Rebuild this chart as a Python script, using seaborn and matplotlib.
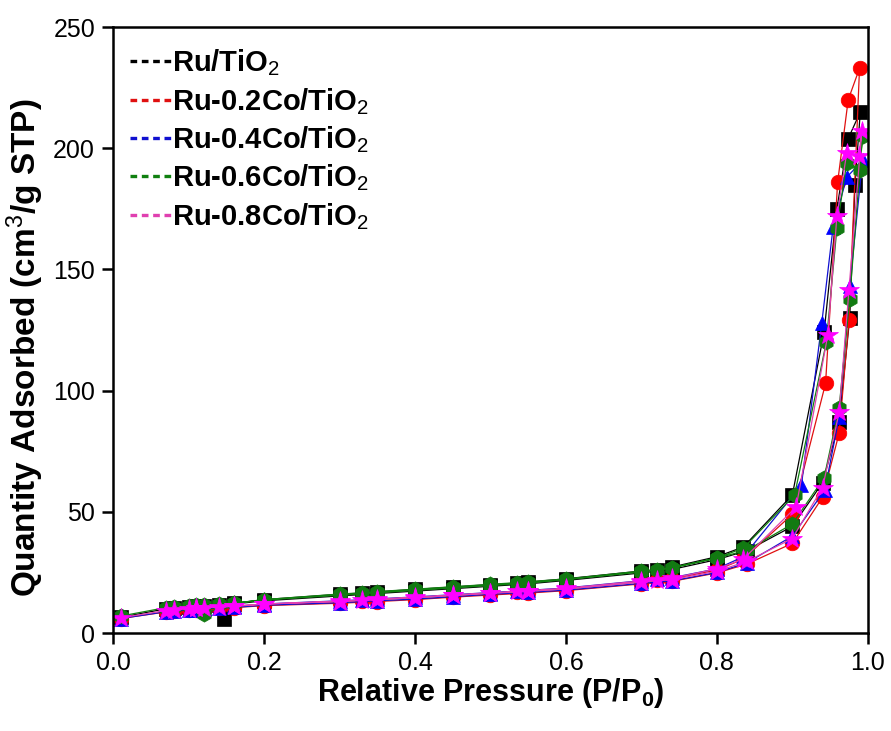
import numpy as np
import pandas as pd
import matplotlib
matplotlib.use("Agg")
import matplotlib.pyplot as plt
from matplotlib.lines import Line2D
import seaborn as sns

# ---- isotherm data: adsorption branch then desorption branch ----
ads_x = [0.01, 0.07, 0.08, 0.10, 0.11, 0.12, 0.14, 0.16, 0.20, 0.30, 0.35,
         0.40, 0.45, 0.50, 0.55, 0.60, 0.70, 0.74, 0.80, 0.84, 0.90]
des_x = [0.835, 0.80, 0.74, 0.72, 0.70, 0.60, 0.55, 0.535, 0.50, 0.45, 0.40,
         0.35, 0.33, 0.30, 0.20, 0.16]

# Ru/TiO2
ru_ads_hx = [0.94, 0.962, 0.976, 0.983, 0.99]
ru_ads_hy = [62, 87, 130, 185, 215]
ru_des_hx = [0.974, 0.959, 0.942, 0.90]
ru_des_hy = [204, 175, 124, 57]
ru_ads_y = [6.5, 10.0, 10.3, 10.8, 11.0, 11.3, 11.6, 12.0, 13.3, 15.3, 16.3,
            17.3, 18.3, 19.3, 20.3, 21.7, 24.8, 26.2, 30.3, 34.0, 44]
ru_des_y = [35.5, 31.5, 27.2, 26.0, 25.6, 22.4, 21.0, 20.6, 20.0, 19.0, 18.0,
            17.0, 16.5, 16.0, 13.8, 12.3]
ru_tail_x = [0.147]
ru_tail_y = [5.8]

# Ru-0.2Co/TiO2
c2_ads_hx = [0.94, 0.962, 0.975, 0.989]
c2_ads_hy = [56, 82.5, 129, 233]
c2_des_hx = [0.974, 0.960, 0.944, 0.90]
c2_des_hy = [220, 186, 103, 49]
c2_ads_y = [6.0, 8.7, 9.0, 9.4, 9.6, 9.8, 10.2, 10.5, 11.3, 12.3, 13.0,
            13.8, 14.8, 15.7, 16.5, 17.5, 20.3, 21.3, 24.8, 28.5, 37]
c2_des_y = [30.5, 26.0, 22.3, 21.8, 21.2, 18.2, 17.3, 17.0, 16.4, 15.5, 14.6,
            13.8, 13.4, 13.0, 11.8, 10.8]
c2_tail_x = [0.12]
c2_tail_y = [10.0]

# Ru-0.4Co/TiO2
c4_ads_hx = [0.943, 0.962, 0.976, 0.993]
c4_ads_hy = [59, 89, 143, 195]
c4_des_hx = [0.972, 0.954, 0.939, 0.912]
c4_des_hy = [188, 167.5, 128, 61]
c4_ads_y = [6.0, 8.8, 9.1, 9.5, 9.7, 10.0, 10.3, 10.6, 11.5, 12.5, 13.3,
            14.0, 15.0, 16.0, 16.8, 17.7, 20.5, 21.5, 25.0, 29.0, 40]
c4_des_y = [31.5, 26.5, 22.8, 22.2, 21.6, 18.6, 17.6, 17.3, 16.7, 15.8, 14.9,
            14.1, 13.7, 13.3, 12.0, 11.0]
c4_tail_x = [0.12]
c4_tail_y = [10.2]

# Ru-0.6Co/TiO2
c6_ads_hx = [0.942, 0.962, 0.976, 0.993]
c6_ads_hy = [64, 93, 138, 205]
c6_des_hx = [0.989, 0.972, 0.959, 0.945, 0.903]
c6_des_hy = [191, 194, 167, 120, 57]
c6_ads_y = [7.0, 10.5, 10.8, 11.2, 11.4, 11.6, 12.0, 12.4, 13.6, 15.6, 16.6,
            17.6, 18.6, 19.6, 20.6, 22.0, 25.2, 26.8, 30.9, 34.2, 45]
c6_des_y = [35.0, 31.0, 27.0, 26.2, 25.6, 22.3, 21.2, 20.8, 20.1, 19.1, 18.1,
            17.1, 16.6, 16.1, 13.8, 12.2]
c6_tail_x = [0.12]
c6_tail_y = [8.0]

# Ru-0.8Co/TiO2
c8_ads_hx = [0.94, 0.962, 0.975, 0.992]
c8_ads_hy = [60, 91, 141.5, 207]
c8_des_hx = [0.988, 0.972, 0.959, 0.947, 0.905]
c8_des_hy = [197, 198, 172, 123, 52]
c8_ads_y = [6.3, 9.3, 9.6, 10.0, 10.2, 10.4, 10.8, 11.1, 12.0, 13.0, 13.8,
            14.6, 15.5, 16.4, 17.2, 18.2, 21.0, 22.0, 25.5, 29.6, 39]
c8_des_y = [30.5, 26.5, 22.6, 22.0, 21.5, 18.5, 17.5, 17.2, 16.6, 15.7, 14.8,
            14.0, 13.6, 13.2, 11.9, 11.0]
c8_tail_x = [0.11]
c8_tail_y = [10.3]

labels = ["Ru/TiO$_2$", "Ru-0.2Co/TiO$_2$", "Ru-0.4Co/TiO$_2$",
          "Ru-0.6Co/TiO$_2$", "Ru-0.8Co/TiO$_2$"]
line_colors = ["#000000", "#e01010", "#1010d0", "#108010", "#e040b0"]
mark_colors = ["#000000", "#ff0000", "#0000ff", "#127a12", "#ff00ff"]
markers = ["s", "o", "^", "h", "*"]
msizes = [9.5, 10.5, 10.5, 11, 15]

series = [
    (ru_ads_y, ru_ads_hx, ru_ads_hy, ru_des_hx, ru_des_hy, ru_des_y, ru_tail_x, ru_tail_y),
    (c2_ads_y, c2_ads_hx, c2_ads_hy, c2_des_hx, c2_des_hy, c2_des_y, c2_tail_x, c2_tail_y),
    (c4_ads_y, c4_ads_hx, c4_ads_hy, c4_des_hx, c4_des_hy, c4_des_y, c4_tail_x, c4_tail_y),
    (c6_ads_y, c6_ads_hx, c6_ads_hy, c6_des_hx, c6_des_hy, c6_des_y, c6_tail_x, c6_tail_y),
    (c8_ads_y, c8_ads_hx, c8_ads_hy, c8_des_hx, c8_des_hy, c8_des_y, c8_tail_x, c8_tail_y),
]

sns.set_style("ticks")
plt.rcParams["font.family"] = ["Liberation Sans", "DejaVu Sans"]
plt.rcParams["mathtext.fontset"] = "custom"
plt.rcParams["mathtext.rm"] = "Liberation Sans"
plt.rcParams["mathtext.bf"] = "Liberation Sans:bold"
plt.rcParams["mathtext.default"] = "rm"
plt.rcParams["text.color"] = "black"
plt.rcParams["axes.labelcolor"] = "black"

fig = plt.figure(figsize=(8.91, 7.31), dpi=100)
ax = fig.add_axes([0.127, 0.134, 0.847, 0.829])

for i, (ay, ahx, ahy, dhx, dhy, dy, tx, ty) in enumerate(series):
    xs = ads_x + ahx + dhx + des_x + tx
    ys = ay + ahy + dhy + dy + ty
    df = pd.DataFrame({"p": xs, "q": ys})
    sns.lineplot(data=df, x="p", y="q", sort=False, estimator=None, ax=ax,
                 color=line_colors[i], linewidth=0.9, marker=markers[i],
                 markersize=msizes[i], markerfacecolor=mark_colors[i],
                 markeredgecolor=mark_colors[i], markeredgewidth=0.5,
                 legend=False)

ax.set_xlim(0, 1.0)
ax.set_ylim(0, 250)
ax.set_xticks(np.arange(0, 1.01, 0.2))
ax.set_xticklabels([f"{v:.1f}" for v in np.arange(0, 1.01, 0.2)])
ax.set_yticks(np.arange(0, 251, 50))

for sp in ax.spines.values():
    sp.set_linewidth(1.8)
    sp.set_color("black")
ax.tick_params(axis="both", which="major", direction="out", length=8,
               width=1.8, labelsize=18, color="black", labelcolor="black",
               pad=5)

ax.set_xlabel(r"Relative Pressure (P/P$_\mathbf{0}$)", fontsize=22,
              fontweight="bold", labelpad=1)
ax.set_ylabel(r"Quantity Adsorbed (cm$^3$/g STP)", fontsize=24,
              fontweight="bold")
ax.yaxis.set_label_coords(-0.089, 0.47)

handles = [Line2D([0], [0], color=c, linestyle=(0, (2.0, 1.4)), linewidth=2.4)
           for c in line_colors]
leg = ax.legend(handles, labels, loc="upper left", frameon=False,
                prop={"weight": "bold", "size": 21}, handlelength=1.45,
                handletextpad=0.0, labelspacing=0.26,
                bbox_to_anchor=(-0.005, 1.0), borderaxespad=0.3)

fig.savefig("out.png", dpi=100)
